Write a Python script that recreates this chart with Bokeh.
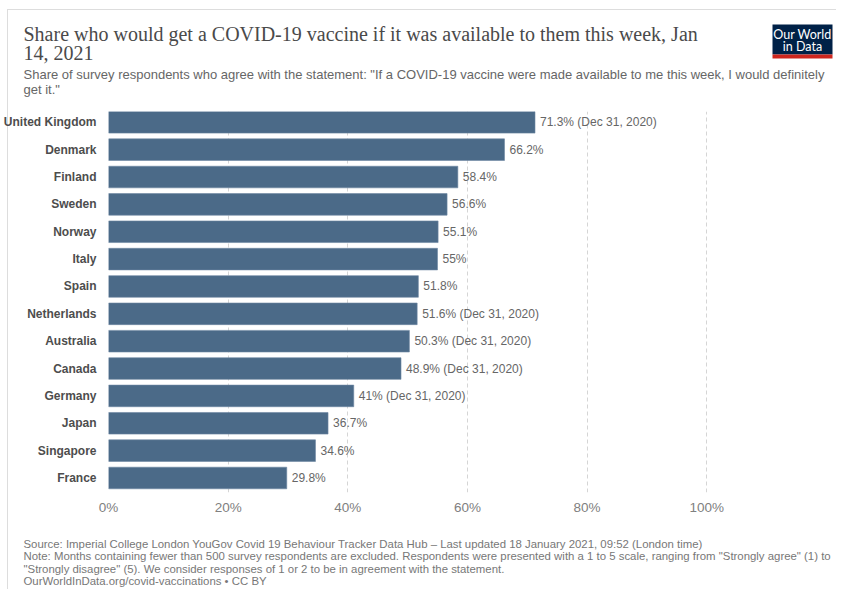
from bokeh.plotting import figure
from bokeh.layouts import column
from bokeh.models import ColumnDataSource, Range1d, FixedTicker
from bokeh.core.properties import value
from bokeh.embed import file_html
from bokeh.resources import INLINE

countries = ["United Kingdom", "Denmark", "Finland", "Sweden", "Norway", "Italy", "Spain",
             "Netherlands", "Australia", "Canada", "Germany", "Japan", "Singapore", "France"]
values = [71.3, 66.2, 58.4, 56.6, 55.1, 55, 51.8, 51.6, 50.3, 48.9, 41, 36.7, 34.6, 29.8]
notes = ["Dec 31, 2020", "", "", "", "", "", "", "Dec 31, 2020", "Dec 31, 2020",
         "Dec 31, 2020", "Dec 31, 2020", "", "", ""]
x_ticks = [0, 20, 40, 60, 80, 100]
x_tick_labels = ["0%", "20%", "40%", "60%", "80%", "100%"]

title_lines = ["Share who would get a COVID-19 vaccine if it was available to them this week, Jan",
               "14, 2021"]
subtitle_lines = ["Share of survey respondents who agree with the statement: \"If a COVID-19 vaccine were made available to me this week, I would definitely",
                  "get it.\""]
footer_lines = ["Source: Imperial College London YouGov Covid 19 Behaviour Tracker Data Hub \u2013 Last updated 18 January 2021, 09:52 (London time)",
                "Note: Months containing fewer than 500 survey respondents are excluded. Respondents were presented with a 1 to 5 scale, ranging from \"Strongly agree\" (1) to",
                "\"Strongly disagree\" (5). We consider responses of 1 or 2 to be in agreement with the statement.",
                "OurWorldInData.org/covid-vaccinations \u2022 CC BY"]
logo_lines = ["Our World", "in Data"]

n = len(countries)
ypos = [n - 1 - i for i in range(n)]
labels = [f"{v:g}%" + (f" ({nt})" if nt else "") for v, nt in zip(values, notes)]
src = ColumnDataSource(dict(y=ypos, value=values, label=labels, country=countries))

W = 836
HEAD_H = 111
FOOT_H = 69


def blank(h):
    f = figure(width=W, height=h, x_range=Range1d(0, W), y_range=Range1d(h, 0),
               x_axis_type=None, y_axis_type=None, output_backend="svg", toolbar_location=None,
               min_border=0, frame_align=False)
    f.outline_line_color = None
    f.grid.visible = False
    f.background_fill_alpha = 0
    f.border_fill_alpha = 0
    return f


# ---------- header ----------
head = blank(HEAD_H)
head.text(x=[23, 23], y=[33, 52.5], text=title_lines, text_font=value("Liberation Serif"),
          text_font_size="20px", text_color="#4a4a4a", text_baseline="middle")
head.text(x=[23, 23], y=[74, 88.5], text=subtitle_lines, text_font=value("Liberation Sans"),
          text_font_size="13px", text_color="#666666", text_baseline="middle")
head.quad(left=[772], right=[832], top=[24], bottom=[54], fill_color="#002147", line_color=None)
head.quad(left=[772], right=[832], top=[54], bottom=[58], fill_color="#ce261e", line_color=None)
head.text(x=[802, 802], y=[34, 46], text=logo_lines, text_font=value("Lato"),
          text_font_size="12.5px", text_color="white", text_align="center",
          text_baseline="middle")

# ---------- main chart ----------
p = figure(frame_width=658, frame_height=381, x_range=Range1d(0, 110),
           y_range=Range1d(-0.53, 13.395), output_backend="svg", toolbar_location=None,
           min_border_left=99, min_border_right=60, min_border_top=0, min_border_bottom=28,
           frame_align=False)
p.outline_line_color = None
p.border_fill_alpha = 0
p.background_fill_color = "white"

p.hbar(y="y", left=0, right="value", height=0.79, source=src,
       fill_color="#4b6a88", line_color="#6d87a1", line_width=0.6)
p.text(x="value", y="y", text="label", source=src, x_offset=5, text_baseline="middle",
       text_font_size="12px", text_color="#666666", text_font=value("Liberation Sans"))

xa = p.xaxis[0]
xa.ticker = FixedTicker(ticks=x_ticks)
xa.major_label_overrides = {t: l for t, l in zip(x_ticks, x_tick_labels)}
xa.axis_line_color = None
xa.major_tick_line_color = None
xa.minor_tick_line_color = None
xa.major_label_text_font = "Liberation Sans"
xa.major_label_text_font_size = "13.5px"
xa.major_label_text_color = "#808080"
xa.major_label_standoff = 1

ya = p.yaxis[0]
ya.ticker = FixedTicker(ticks=ypos)
ya.major_label_overrides = {y: c for y, c in zip(ypos, countries)}
ya.axis_line_color = None
ya.major_tick_line_color = None
ya.minor_tick_line_color = None
ya.major_label_text_font = "Liberation Sans"
ya.major_label_text_font_style = "bold"
ya.major_label_text_font_size = "12px"
ya.major_label_text_color = "#4d4d4d"
ya.major_label_standoff = 6

p.xgrid.ticker = FixedTicker(ticks=x_ticks)
p.xgrid.grid_line_color = "#d5d5d5"
p.xgrid.grid_line_dash = "4 3"
p.ygrid.visible = False

# ---------- footer ----------
foot = blank(FOOT_H)
foot.text(x=[23] * 4, y=[23 + 12.5 * i for i in range(4)], text=footer_lines,
          text_font=value("Liberation Sans"), text_font_size="11.4px", text_color="#777777",
          text_baseline="middle")

frame_css = ("linear-gradient(#dddddd, #dddddd) 7px 9px / 1px 100% no-repeat, "
             "linear-gradient(#dddddd, #dddddd) 7px 9px / 100% 1px no-repeat, white")
layout = column(head, p, foot, spacing=0, styles={"background": frame_css})

open("out.html", "w").write(file_html(layout, INLINE))
